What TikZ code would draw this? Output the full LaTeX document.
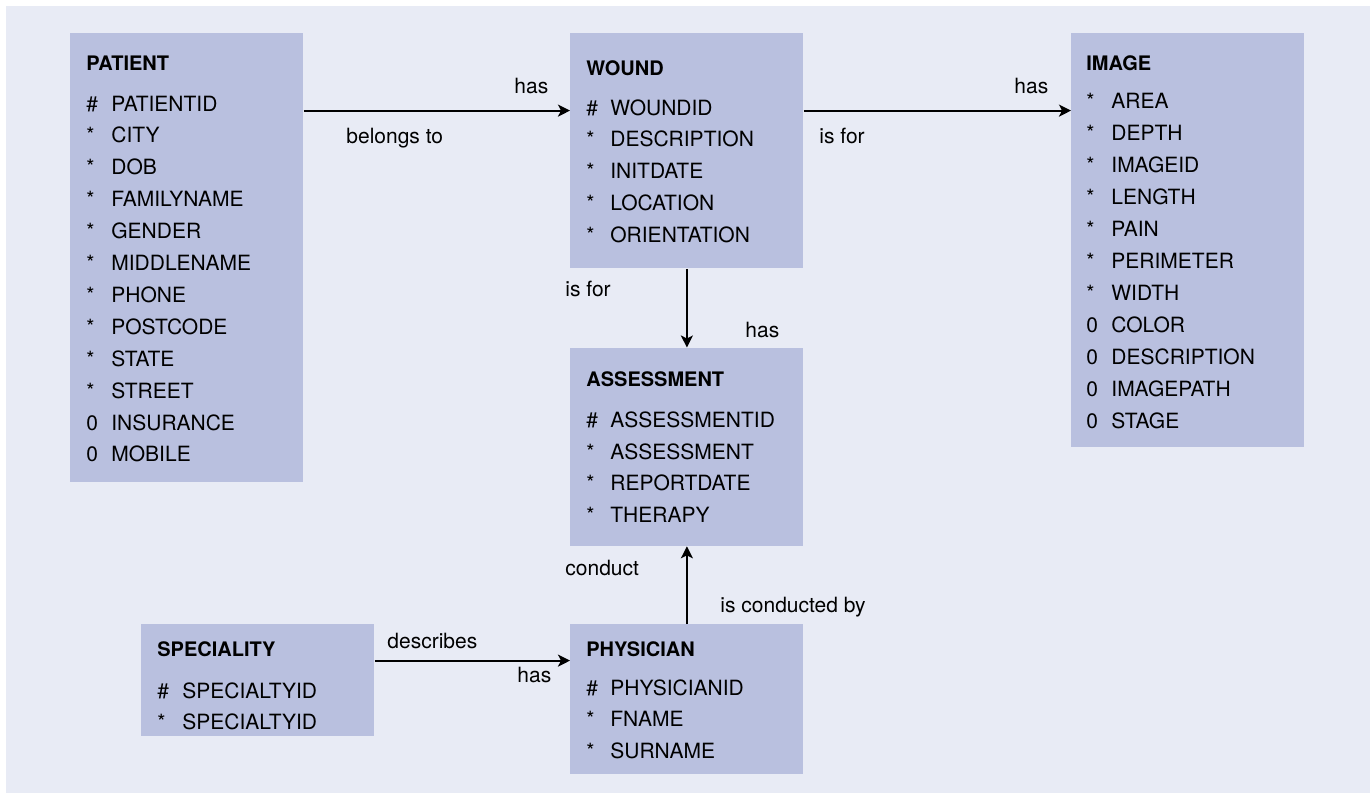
\documentclass[tikz,border=0pt]{standalone}
\usepackage{fontspec}
\setmainfont{TeX Gyre Heros}
\usepackage{tikz}
\usetikzlibrary{arrows.meta}
\definecolor{fundo}{HTML}{E8EBF5}
\definecolor{caixa}{HTML}{B9C0DF}
\tikzset{
  entity/.style={fill=caixa, anchor=north west, minimum width=116.5pt, inner sep=0pt},
  entitle/.style={anchor=base west, inner sep=0pt, font=\bfseries},
  attr/.style={anchor=base west, inner sep=0pt},
  rel/.style={anchor=base west, inner sep=0pt},
  link/.style={-{Stealth[length=6pt, width=6pt, inset=1.5pt]}, line width=1pt},
}

\begin{document}
\begin{tikzpicture}[x=0.5pt, y=-0.5pt, font=\fontsize{10.5}{12}\selectfont]
  \useasboundingbox (0,0) rectangle (1370,793);
  \fill[fundo] (6,6) rectangle (1370,793);
  % patient
  \node[entity, minimum height=224.5pt] (patient) at (70,33) {};
  \node[entitle] (patient-t) at (86,70.5) {PATIENT};
  \foreach \m/\a [count=\i from 0] in {\#/PATIENTID, */CITY, */DOB, */FAMILYNAME, */GENDER, */MIDDLENAME,
      */PHONE, */POSTCODE, */STATE, */STREET, 0/INSURANCE, 0/MOBILE} {
    \node[attr] (patient-k\i) at (86,111+31.9*\i) {\m};
    \node[attr] (patient-a\i) at (111,111+31.9*\i) {\a};
  }
  % wound
  \node[entity, minimum height=117.5pt] (wound) at (570,33) {};
  \node[entitle] (wound-t) at (586,75) {WOUND};
  \foreach \m/\a [count=\i from 0] in {\#/WOUNDID, */DESCRIPTION, */INITDATE, */LOCATION, */ORIENTATION} {
    \node[attr] (wound-k\i) at (586,115+31.8*\i) {\m};
    \node[attr] (wound-a\i) at (610,115+31.8*\i) {\a};
  }
  % image
  \node[entity, minimum height=207pt] (image) at (1071,33) {};
  \node[entitle] (image-t) at (1086,70) {IMAGE};
  \foreach \m/\a [count=\i from 0] in {*/AREA, */DEPTH, */IMAGEID, */LENGTH, */PAIN, */PERIMETER, */WIDTH,
      0/COLOR, 0/DESCRIPTION, 0/IMAGEPATH, 0/STAGE} {
    \node[attr] (image-k\i) at (1086,108+32*\i) {\m};
    \node[attr] (image-a\i) at (1111,108+32*\i) {\a};
  }
  % assessment
  \node[entity, minimum height=99pt] (assessment) at (570,347.5) {};
  \node[entitle] (assessment-t) at (586,386.7) {ASSESSMENT};
  \foreach \m/\a [count=\i from 0] in {\#/ASSESSMENTID, */ASSESSMENT, */REPORTDATE, */THERAPY} {
    \node[attr] (assessment-k\i) at (586,427.3+31.8*\i) {\m};
    \node[attr] (assessment-a\i) at (610,427.3+31.8*\i) {\a};
  }
  % speciality
  \node[entity, minimum height=56pt] (speciality) at (141,624) {};
  \node[entitle] (speciality-t) at (157,656.7) {SPECIALITY};
  \foreach \m/\a [count=\i from 0] in {\#/SPECIALTYID, */SPECIALTYID} {
    \node[attr] (speciality-k\i) at (157,698+31.5*\i) {\m};
    \node[attr] (speciality-a\i) at (182,698+31.5*\i) {\a};
  }
  % physician
  \node[entity, minimum height=74.6pt] (physician) at (570,624) {};
  \node[entitle] (physician-t) at (586,656) {PHYSICIAN};
  \foreach \m/\a [count=\i from 0] in {\#/PHYSICIANID, */FNAME, */SURNAME} {
    \node[attr] (physician-k\i) at (586,695+31.7*\i) {\m};
    \node[attr] (physician-a\i) at (610,695+31.7*\i) {\a};
  }
  % relationships
  \draw[link] ([yshift=-38.8pt]patient.north east) -- ([yshift=-38.8pt]wound.north west);
  \draw[link] ([yshift=-38.8pt]wound.north east) -- ([yshift=-38.8pt]image.north west);
  \draw[link] (wound.south) -- (assessment.north);
  \draw[link] (physician.north) -- (assessment.south);
  \draw[link] ([yshift=-18.3pt]speciality.north east) -- ([yshift=-18.3pt]physician.north west);
  \node[rel] (r-has1) at (514,93) {has};
  \node[rel] (r-belongs) at (346,143) {belongs to};
  \node[rel] (r-has2) at (1014,93) {has};
  \node[rel] (r-isfor1) at (819,143) {is for};
  \node[rel] (r-isfor2) at (565,296.7) {is for};
  \node[rel] (r-has3) at (745,337) {has};
  \node[rel] (r-conduct) at (565,575) {conduct};
  \node[rel] (r-conducted) at (720,612) {is conducted by};
  \node[rel] (r-describes) at (387,648) {describes};
  \node[rel] (r-has4) at (517,682) {has};
\end{tikzpicture}
\end{document}
